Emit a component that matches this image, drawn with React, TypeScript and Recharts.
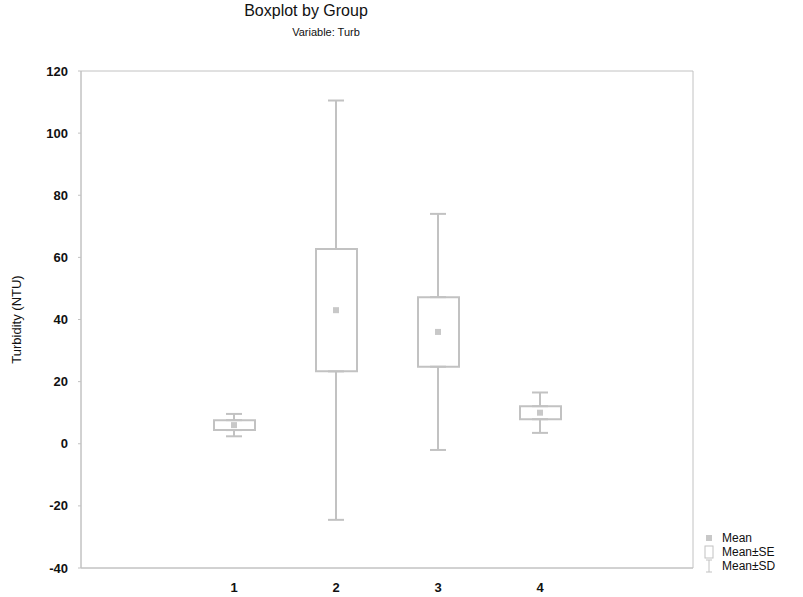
import React from 'react';
import {
  ComposedChart,
  Bar,
  Line,
  ErrorBar,
  XAxis,
  YAxis,
  ReferenceArea,
} from 'recharts';

// categories on the x axis (0 and 5 are empty padding slots)
const categories = ['0', '1', '2', '3', '4', '5'];
const groups = ['1', '2', '3', '4'];
const means = [6, 43, 36, 10];
const seValues = [1.6, 19.7, 11.2, 2.1];
const sdValues = [3.6, 67.5, 38, 6.5];
const yTicks = [-40, -20, 0, 20, 40, 60, 80, 100, 120];

const GREY = '#c2c2c2';
const FONT = '"Liberation Sans", Arial, sans-serif';

const data = categories.map(c => {
  const i = groups.indexOf(c);
  if (i < 0) return { group: c, mean: null, se: null, sd: null, seTop: null, seBottom: null, upErr: null, downErr: null };
  return {
    group: c,
    mean: means[i],
    se: seValues[i],
    sd: sdValues[i],
    seTop: means[i] + seValues[i],
    seBottom: means[i] - seValues[i],
    // whiskers run from the box edges out to mean ± SD
    upErr: [0, sdValues[i] - seValues[i]],
    downErr: [sdValues[i] - seValues[i], 0],
  };
});

function MeanDot(props: any) {
  const { cx, cy, payload } = props;
  if (payload.mean == null || cx == null || cy == null) return null;
  return <rect x={cx - 3} y={cy - 3} width={6} height={6} fill="#c8c8c8" />;
}

function LegendBlock() {
  const rows = ['Mean', 'Mean±SE', 'Mean±SD'];
  return (
    <div style={{ position: 'absolute', left: 700, top: 531, fontFamily: FONT, fontSize: 12, color: '#111', lineHeight: '14px' }}>
      {rows.map((r, i) => (
        <div key={r} style={{ display: 'flex', alignItems: 'center' }}>
          <svg width={20} height={14}>
            {i === 0 && <rect x={6} y={4} width={6} height={6} fill="#c8c8c8" />}
            {i === 1 && <rect x={5} y={1} width={8} height={12} fill="none" stroke={GREY} />}
            {i === 2 && (
              <g stroke={GREY}>
                <line x1={9} y1={1} x2={9} y2={13} />
                <line x1={6} y1={1} x2={12} y2={1} />
                <line x1={6} y1={13} x2={12} y2={13} />
              </g>
            )}
          </svg>
          <span style={{ marginLeft: 2 }}>{r}</span>
        </div>
      ))}
    </div>
  );
}

export default function App() {
  return (
    <div style={{ position: 'absolute', left: 0, top: 0, width: 803, height: 597, background: '#fff' }}>
      <div style={{ position: 'absolute', left: 0, width: 612, top: 2, textAlign: 'center', fontFamily: FONT, fontSize: 16, color: '#111' }}>
        Boxplot by Group
      </div>
      <div style={{ position: 'absolute', left: 0, width: 652, top: 26, textAlign: 'center', fontFamily: FONT, fontSize: 11, color: '#111' }}>
        Variable: Turb
      </div>
      <ComposedChart
        width={803}
        height={597}
        data={data}
        margin={{ top: 71, right: 110, left: 36, bottom: 4 }}
      >
        <ReferenceArea y1={-40} y2={120} fill="none" stroke={GREY} />
        <XAxis
          dataKey="group"
          height={25}
          tickLine={false}
          tickMargin={9}
          axisLine={{ stroke: GREY }}
          tick={{ fill: '#111', fontSize: 13, fontFamily: FONT, fontWeight: 'bold' }}
          tickFormatter={v => (groups.includes(v) ? v : '')}
        />
        <YAxis
          width={45}
          domain={[-40, 120]}
          ticks={yTicks}
          interval={0}
          tickSize={3}
          tickMargin={10}
          tickLine={{ stroke: GREY }}
          axisLine={{ stroke: GREY }}
          tick={{ fill: '#111', fontSize: 13, fontFamily: FONT, fontWeight: 'bold' }}
          label={{ value: 'Turbidity (NTU)', angle: -90, position: 'insideLeft', offset: -20, style: { fontSize: 13, fontFamily: FONT, fill: '#111', textAnchor: 'middle' } }}
        />
        <Line dataKey="seTop" stroke="none" dot={false} activeDot={false} isAnimationActive={false}>
          <ErrorBar dataKey="upErr" width={8} stroke={GREY} strokeWidth={2} direction="y" />
        </Line>
        <Line dataKey="seBottom" stroke="none" dot={false} activeDot={false} isAnimationActive={false}>
          <ErrorBar dataKey="downErr" width={8} stroke={GREY} strokeWidth={2} direction="y" />
        </Line>
        <Bar
          dataKey={(d: any) => (d.mean == null ? null : [d.seBottom, d.seTop])}
          barSize={41}
          fill="#fff"
          stroke={GREY}
          strokeWidth={2}
          isAnimationActive={false}
        />
        <Line dataKey="mean" stroke="none" dot={<MeanDot />} activeDot={false} isAnimationActive={false} />
      </ComposedChart>
      <LegendBlock />
    </div>
  );
}
